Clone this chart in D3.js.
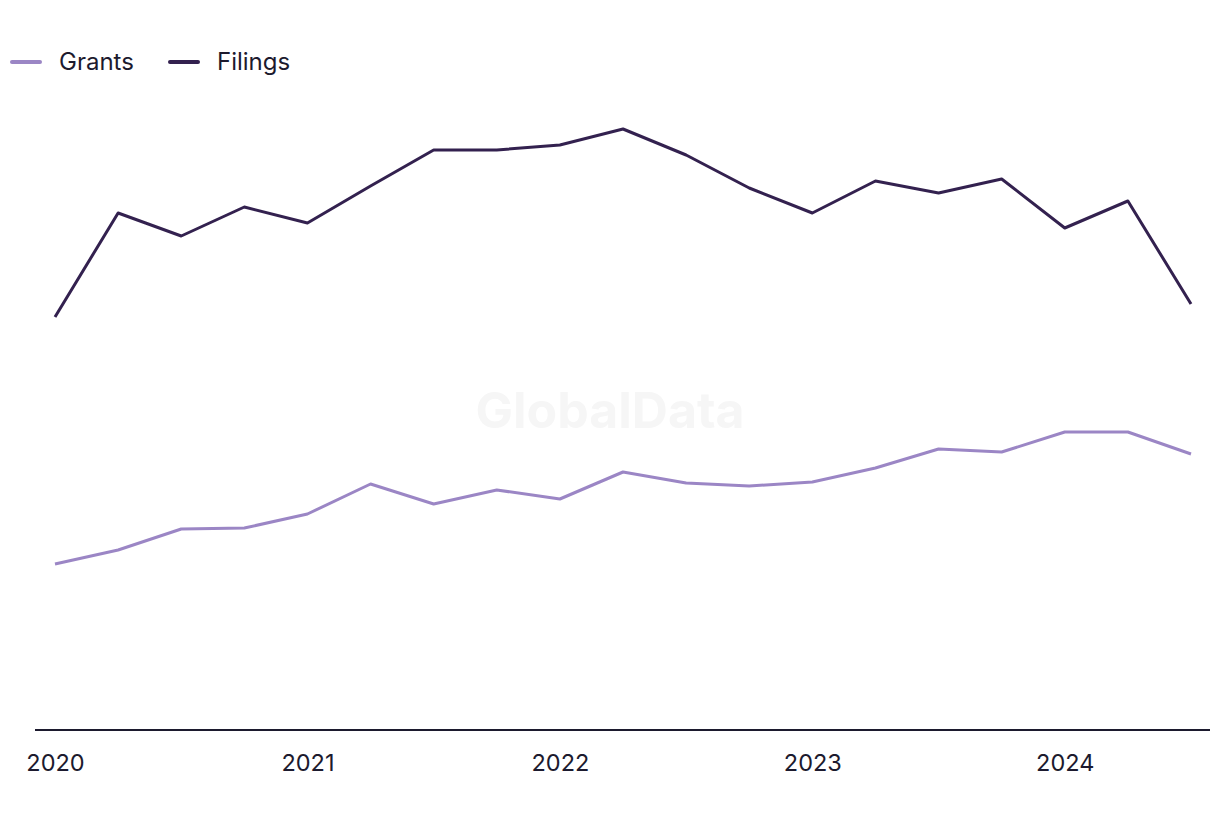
<!DOCTYPE html>
<html><head><meta charset="utf-8">
<script src="https://cdn.jsdelivr.net/npm/d3@7"></script>
<style>body{margin:0;background:#fff;} svg{display:block;}</style>
</head><body><svg id="c" width="1220" height="820"></svg>
<script>
const quarters = ["2020Q1","2020Q2","2020Q3","2020Q4","2021Q1","2021Q2","2021Q3","2021Q4","2022Q1","2022Q2","2022Q3","2022Q4","2023Q1","2023Q2","2023Q3","2023Q4","2024Q1","2024Q2","2024Q3"];
const filings = [413,517,494,523,507,544,580,580,585,601,575,542,517,549,537,551,502,529,426];
const grants  = [166,180,201,202,216,246,226,240,231,258,247,244,248,262,281,278,298,298,276];
const tickLabels = ["2020","2021","2022","2023","2024"];
const tickQuarters = ["2020Q1","2021Q1","2022Q1","2023Q1","2024Q1"];

const svg = d3.select("#c");
const x = d3.scalePoint().domain(quarters).range([55, 1191]);
const y = d3.scaleLinear().domain([0, 600]).range([730, 130]);
const font = "Inter, 'Open Sans', sans-serif";
const textCol = "#1c1a2e";

svg.append("text").attr("x", 610).attr("y", 428).attr("text-anchor","middle")
  .attr("font-family", font).attr("font-weight", 700).attr("font-size", 50)
  .attr("fill", "#f6f6f6").text("GlobalData");

const ax = d3.axisBottom(x).tickValues(tickQuarters).tickFormat((d,i)=>tickLabels[i]).tickSize(0).tickPadding(0);
const g = svg.append("g").attr("transform","translate(0,730)").call(ax);
g.select(".domain").remove();
g.append("line").attr("x1",35).attr("x2",1210).attr("stroke",textCol).attr("stroke-width",2);
g.selectAll(".tick text").attr("font-family",font).attr("font-size",23.5).attr("fill",textCol).attr("dy",0).attr("y",41);

const line = d3.line().x((d,i)=>x(quarters[i])).y(d=>y(d));
svg.append("path").datum(grants).attr("d",line).attr("fill","none").attr("stroke","#9b86c5").attr("stroke-width",3).attr("stroke-linejoin","round");
svg.append("path").datum(filings).attr("d",line).attr("fill","none").attr("stroke","#33214f").attr("stroke-width",3).attr("stroke-linejoin","round");

const legend = [{n:"Grants",c:"#9b86c5",x:10},{n:"Filings",c:"#33214f",x:168}];
legend.forEach(l=>{
  svg.append("line").attr("x1",l.x+2).attr("x2",l.x+30).attr("y1",62).attr("y2",62).attr("stroke",l.c).attr("stroke-width",4).attr("stroke-linecap","round");
  svg.append("text").attr("x",l.x+49).attr("y",70).attr("font-family",font).attr("font-size",24).attr("fill",textCol).text(l.n);
});
</script></body></html>
